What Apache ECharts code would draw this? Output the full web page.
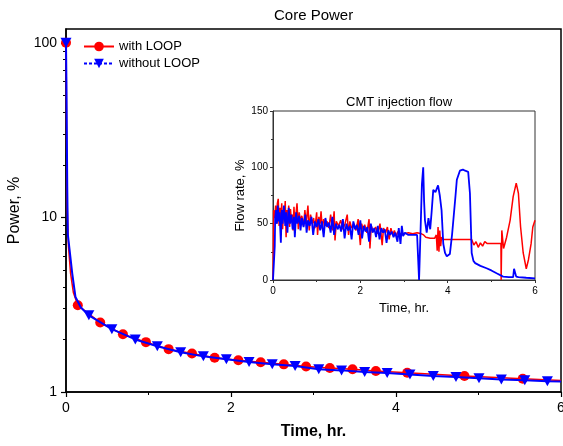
<!DOCTYPE html>
<html>
<head>
<meta charset="utf-8">
<script src="https://cdn.jsdelivr.net/npm/echarts@6/dist/echarts.min.js"></script>
<style>
html,body{margin:0;padding:0;background:#fff;overflow:hidden;}
#chart{width:563px;height:446px;}
</style>
</head>
<body>
<div id="chart"></div>
<script>
// ---- Main chart: Core Power (log scale) ----
const powerMajorTicks = [1, 10, 100];
const powerMinorTicks = [2,3,4,5,6,7,8,9,20,30,40,50,60,70,80,90];
const timeTicks = [0, 2, 4, 6];

const withLoopLine = [[0,100],[0.004,60],[0.008,25],[0.012,15],[0.016,11],[0.03,6.8],[0.055,4.8],[0.09,3.7],[0.143,3.14],[0.415,2.50],[0.690,2.14],[0.969,1.93],[1.244,1.76],[1.527,1.66],[1.802,1.57],[2.089,1.52],[2.36,1.48],[2.64,1.44],[2.91,1.40],[3.198,1.373],[3.473,1.349],[3.756,1.319],[4.136,1.29],[4.83,1.235],[5.536,1.19],[6,1.165]];
const withLoopMarkers = [[0,100],[0.143,3.14],[0.415,2.50],[0.690,2.14],[0.969,1.93],[1.244,1.76],[1.527,1.66],[1.802,1.57],[2.089,1.52],[2.36,1.48],[2.64,1.44],[2.91,1.40],[3.198,1.373],[3.473,1.349],[3.756,1.319],[4.136,1.29],[4.83,1.235],[5.536,1.19]];

const withoutLoopLine = [[0,100],[0.005,60],[0.01,30],[0.015,15],[0.022,8],[0.042,6.6],[0.075,4.8],[0.115,3.5],[0.18,3.05],[0.277,2.75],[0.556,2.29],[0.84,2.0],[1.107,1.83],[1.39,1.69],[1.665,1.60],[1.944,1.54],[2.219,1.486],[2.50,1.44],[2.777,1.41],[3.064,1.35],[3.34,1.33],[3.62,1.30],[3.893,1.285],[4.169,1.258],[4.452,1.235],[4.727,1.219],[5.006,1.20],[5.277,1.18],[5.561,1.167],[5.835,1.151],[6,1.15]];
const withoutLoopMarkers = [[0,100],[0.277,2.75],[0.556,2.29],[0.84,2.0],[1.107,1.83],[1.39,1.69],[1.665,1.60],[1.944,1.54],[2.219,1.486],[2.50,1.44],[2.777,1.41],[3.064,1.35],[3.34,1.33],[3.62,1.30],[3.893,1.285],[4.169,1.258],[4.452,1.235],[4.727,1.219],[5.006,1.20],[5.277,1.18],[5.561,1.167],[5.835,1.151]];

// ---- Inset: CMT injection flow ----
const flowTicks = [0, 50, 100, 150];
const withLoopFlow = [[0,0],[0.01,0],[0.015,62],[0.04,55],[0.06,66],[0.08,50],[0.1,68],[0.12,72],[0.14,48],[0.16,64],[0.18,52],[0.2,68],[0.22,45],[0.24,60],[0.26,54],[0.28,70],[0.3,38],[0.32,62],[0.34,50],[0.36,66],[0.38,47],[0.4,63],[0.42,53],[0.44,58],[0.46,44],[0.48,65],[0.5,50],[0.52,56],[0.55,68],[0.58,45],[0.6,60],[0.63,52],[0.66,57],[0.7,48],[0.73,62],[0.76,50],[0.8,66],[0.83,44],[0.86,58],[0.9,50],[0.93,55],[0.96,46],[1.0,60],[1.02,40],[1.05,56],[1.08,50],[1.1,61],[1.13,45],[1.16,54],[1.2,48],[1.24,52],[1.28,46],[1.32,58],[1.36,44],[1.4,61],[1.42,35],[1.45,52],[1.5,48],[1.55,53],[1.6,45],[1.65,50],[1.7,58],[1.73,40],[1.76,52],[1.8,46],[1.85,50],[1.9,44],[1.95,54],[2.0,31],[2.03,50],[2.07,44],[2.1,49],[2.15,42],[2.2,54],[2.22,28],[2.25,48],[2.3,43],[2.35,47],[2.4,41],[2.45,50],[2.5,31],[2.53,46],[2.58,42],[2.62,47],[2.66,36],[2.7,46],[2.74,40],[2.78,44],[2.82,39],[2.86,43],[2.9,40],[2.95,42],[3.0,41],[3.1,42],[3.2,41],[3.3,42],[3.4,41],[3.45,40],[3.5,38],[3.6,37],[3.7,37],[3.74,40],[3.76,26],[3.78,47],[3.8,25],[3.82,44],[3.84,30],[3.86,38],[3.9,36],[4.0,36],[4.2,36],[4.4,36],[4.55,36],[4.6,31],[4.65,34],[4.7,29],[4.75,33],[4.8,30],[4.85,34],[4.9,32.5],[5.0,32.5],[5.1,32.5],[5.22,32.5],[5.225,0],[5.235,0],[5.24,44],[5.28,28],[5.35,38],[5.43,53],[5.5,74],[5.57,86],[5.62,77],[5.67,47],[5.73,24],[5.8,10],[5.85,18],[5.91,32],[5.95,47],[6.0,53]];
const withoutLoopFlow = [[0,0],[0.03,0],[0.04,30],[0.05,55],[0.07,62],[0.09,50],[0.11,66],[0.13,52],[0.15,60],[0.18,33],[0.2,62],[0.22,50],[0.25,66],[0.28,48],[0.3,60],[0.33,42],[0.36,64],[0.39,50],[0.42,58],[0.45,45],[0.48,56],[0.5,38],[0.53,60],[0.56,50],[0.6,57],[0.63,44],[0.66,55],[0.7,47],[0.74,58],[0.77,42],[0.8,53],[0.84,48],[0.88,56],[0.92,40],[0.96,52],[1.0,47],[1.04,54],[1.08,44],[1.12,52],[1.16,38],[1.2,55],[1.24,47],[1.28,51],[1.32,42],[1.36,56],[1.4,40],[1.44,50],[1.48,45],[1.52,49],[1.56,43],[1.6,54],[1.64,37],[1.68,50],[1.72,44],[1.76,48],[1.8,36],[1.84,52],[1.88,45],[1.92,49],[1.96,40],[2.0,53],[2.04,37],[2.08,48],[2.12,43],[2.16,47],[2.2,34],[2.24,50],[2.28,42],[2.32,46],[2.36,38],[2.4,48],[2.44,36],[2.48,46],[2.52,42],[2.56,45],[2.6,33],[2.64,44],[2.68,40],[2.72,43],[2.76,38],[2.8,42],[2.85,34],[2.88,46],[2.92,32],[2.95,48],[2.98,39],[3.02,42],[3.1,40],[3.2,40],[3.3,40],[3.34,39],[3.345,0],[3.36,0],[3.38,45],[3.41,85],[3.44,100],[3.46,70],[3.48,53],[3.52,42],[3.56,55],[3.6,45],[3.63,59],[3.67,80],[3.72,78],[3.78,84],[3.82,75],[3.86,62],[3.9,32],[3.94,24],[3.98,21],[4.05,23],[4.1,40],[4.13,53],[4.18,75],[4.21,89],[4.28,97],[4.35,98],[4.4,97],[4.47,96],[4.51,77],[4.55,24],[4.59,17],[4.63,15],[4.75,12.5],[4.89,10.4],[5.0,8.5],[5.12,6],[5.27,3],[5.4,2.5],[5.5,2.5],[5.52,10],[5.55,10],[5.57,3],[5.62,2.5],[5.8,2],[6.0,1.5]];

const FONT = '"Liberation Sans", Arial, sans-serif';
const RED = '#ff0000';
const BLUE = '#0000ff';

const chart = echarts.init(document.getElementById('chart'), null, {renderer: 'canvas'});

chart.setOption({
  animation: false,
  textStyle: {fontFamily: FONT, color: '#000'},
  graphic: [
    {type: 'text', left: 274, top: 8, style: {text: 'Core Power', font: '15px ' + FONT, fill: '#000'}},
    {type: 'text', left: 346, top: 96, style: {text: 'CMT injection flow', font: '13px ' + FONT, fill: '#000'}, z: 100}
  ],
  legend: {
    left: 83, top: 40, orient: 'vertical', padding: 0,
    itemWidth: 30, itemHeight: 12, itemGap: 4,
    textStyle: {fontSize: 13, fontFamily: FONT, color: '#000'},
    data: ['with LOOP', 'without LOOP']
  },
  grid: [
    {left: 66, top: 29, right: 2, bottom: 54, show: true, borderColor: '#000', borderWidth: 1.5, containLabel: false, outerBoundsMode: 'none'},
    {left: 273, top: 111, width: 262, height: 169, show: true, backgroundColor: '#fff', borderColor: '#333', borderWidth: 1, z: 10, containLabel: false, outerBoundsMode: 'none'}
  ],
  xAxis: [
    {
      gridIndex: 0, type: 'value', min: 0, max: 6, interval: 2,
      name: 'Time, hr.', nameLocation: 'middle', nameGap: 32,
      nameTextStyle: {fontSize: 16, fontWeight: 'bold', fontFamily: FONT, color: '#000'},
      axisLine: {lineStyle: {color: '#000', width: 1.5}},
      axisTick: {length: 5, lineStyle: {color: '#000', width: 1.2}, customValues: timeTicks},
      minorTick: {show: true, splitNumber: 2, length: 3, lineStyle: {color: '#000', width: 1}},
      axisLabel: {fontSize: 14, color: '#000', margin: 9, fontFamily: FONT, customValues: timeTicks},
      splitLine: {show: false}
    },
    {
      gridIndex: 1, type: 'value', min: 0, max: 6, interval: 2,
      name: 'Time, hr.', nameLocation: 'middle', nameGap: 22,
      nameTextStyle: {fontSize: 13, fontFamily: FONT, color: '#000'},
      axisLine: {lineStyle: {color: '#333', width: 1}},
      axisTick: {length: 3, lineStyle: {color: '#333'}},
      minorTick: {show: true, splitNumber: 2, length: 2, lineStyle: {color: '#333'}},
      axisLabel: {fontSize: 10, color: '#000', margin: 6, fontFamily: FONT},
      splitLine: {show: false}, z: 12
    }
  ],
  yAxis: [
    {
      gridIndex: 0, type: 'log', logBase: 10, min: 1, max: 120,
      name: 'Power, %', nameLocation: 'middle', nameGap: 32,
      nameTextStyle: {fontSize: 16, fontFamily: FONT, color: '#000'},
      axisLine: {show: true, lineStyle: {color: '#000', width: 1.5}},
      axisTick: {show: true, length: 5, lineStyle: {color: '#000', width: 1.2}, customValues: powerMajorTicks},
      axisLabel: {fontSize: 14, color: '#000', margin: 9, fontFamily: FONT, customValues: powerMajorTicks},
      splitLine: {show: false}
    },
    {
      gridIndex: 0, type: 'log', logBase: 10, min: 1, max: 120, position: 'left',
      axisLine: {show: false},
      axisTick: {show: true, length: 3, lineStyle: {color: '#000', width: 1}, customValues: powerMinorTicks},
      axisLabel: {show: false},
      splitLine: {show: false}
    },
    {
      gridIndex: 1, type: 'value', min: 0, max: 150, interval: 50,
      name: 'Flow rate, %', nameLocation: 'middle', nameGap: 26,
      nameTextStyle: {fontSize: 13, fontFamily: FONT, color: '#000'},
      axisLine: {show: true, lineStyle: {color: '#333', width: 1}},
      axisTick: {length: 3, lineStyle: {color: '#333'}},
      minorTick: {show: true, splitNumber: 2, length: 2, lineStyle: {color: '#333'}},
      axisLabel: {fontSize: 10, color: '#000', margin: 5, fontFamily: FONT, customValues: flowTicks},
      splitLine: {show: false}, z: 12
    }
  ],
  series: [
    {name: 'with LOOP', type: 'line', data: [], symbol: 'circle', symbolSize: 11,
     itemStyle: {color: RED}, lineStyle: {color: RED, width: 1.5}},
    {name: 'without LOOP', type: 'line', data: [], symbol: 'triangle', symbolRotate: 180, symbolSize: 11,
     itemStyle: {color: BLUE}, lineStyle: {color: BLUE, width: 1.5, type: [3, 2]}},

    {type: 'line', xAxisIndex: 0, yAxisIndex: 0, data: withLoopLine, showSymbol: false, symbol: 'none',
     lineStyle: {color: RED, width: 1.5}, z: 2, silent: true},
    {type: 'scatter', xAxisIndex: 0, yAxisIndex: 0, data: withLoopMarkers, symbol: 'circle', symbolSize: 10,
     itemStyle: {color: RED, opacity: 1}, z: 3, silent: true},
    {type: 'line', xAxisIndex: 0, yAxisIndex: 0, data: withoutLoopLine, showSymbol: false, symbol: 'none',
     lineStyle: {color: BLUE, width: 2}, z: 4, silent: true},
    {type: 'scatter', xAxisIndex: 0, yAxisIndex: 0, data: withoutLoopMarkers, symbol: 'triangle', symbolRotate: 180, symbolSize: [11, 10],
     itemStyle: {color: BLUE, opacity: 1}, z: 5, silent: true},

    {type: 'line', xAxisIndex: 1, yAxisIndex: 2, data: withLoopFlow, showSymbol: false, symbol: 'none',
     lineStyle: {color: RED, width: 1.5}, z: 20, silent: true},
    {type: 'line', xAxisIndex: 1, yAxisIndex: 2, data: withoutLoopFlow, showSymbol: false, symbol: 'none',
     lineStyle: {color: BLUE, width: 1.8}, z: 21, silent: true}
  ]
});
</script>
</body>
</html>
